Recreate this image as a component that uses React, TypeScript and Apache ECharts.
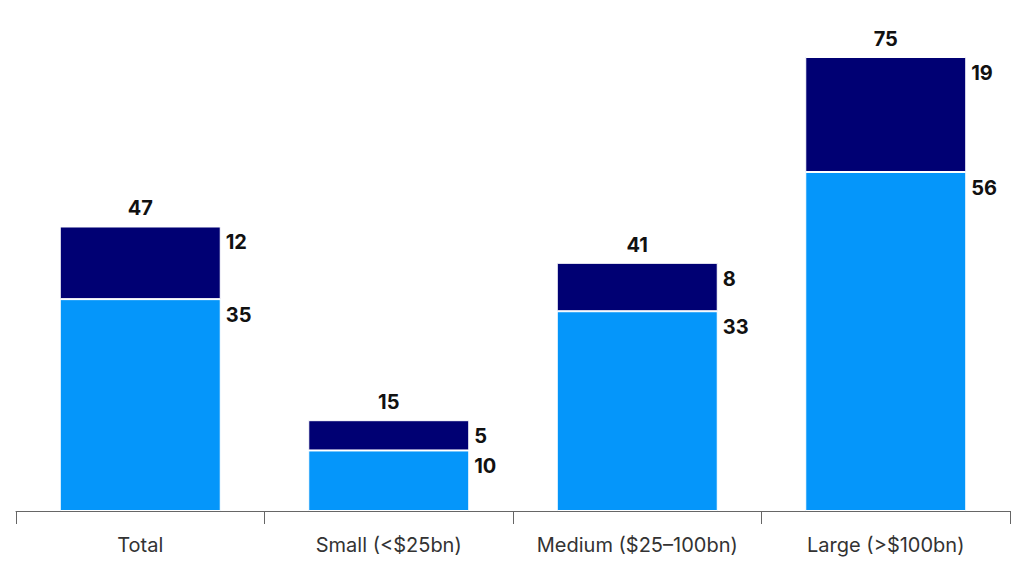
import React, { useEffect, useRef } from "react";
import * as echarts from "echarts";

const categories = ["Total", "Small (<$25bn)", "Medium ($25–100bn)", "Large (>$100bn)"];
const lowerValues = [35, 10, 33, 56];
const upperValues = [12, 5, 8, 19];
const totalValues = [47, 15, 41, 75];

const LIGHT = "#0596fa";
const DARK = "#000073";
const FONT = "Inter, 'Noto Sans', sans-serif";

export default function App() {
  const ref = useRef<HTMLDivElement>(null);
  useEffect(() => {
    if (!ref.current) return;
    const chart = echarts.init(ref.current, undefined, { renderer: "svg" });
    const segLabel = {
      show: true,
      position: [166, 16] as any,
      align: "left",
      verticalAlign: "middle",
      fontFamily: FONT,
      fontSize: 20,
      fontWeight: 700,
      color: "#111",
    };
    chart.setOption({
      animation: false,
      grid: { left: 16, right: 1, top: 57, bottom: 50, containLabel: false },
      xAxis: {
        type: "category",
        data: categories,
        boundaryGap: true,
        axisLine: { show: true, lineStyle: { color: "#666", width: 1 } },
        axisTick: { show: true, length: 13, alignWithLabel: false, lineStyle: { color: "#666" } },
        axisLabel: {
          interval: 0,
          margin: 24,
          fontFamily: FONT,
          fontSize: 20,
          color: "#333",
        },
      },
      yAxis: {
        type: "value",
        min: 0,
        max: 75,
        show: false,
        splitLine: { show: false },
      },
      series: [
        {
          type: "bar",
          stack: "s",
          data: lowerValues,
          barWidth: 161,
          itemStyle: { color: LIGHT, borderColor: "#fff", borderWidth: 1 },
          label: segLabel,
        },
        {
          type: "bar",
          stack: "s",
          data: upperValues,
          barWidth: 161,
          itemStyle: { color: DARK, borderColor: "#fff", borderWidth: 1 },
          label: segLabel,
        },
        {
          type: "scatter",
          data: totalValues,
          symbolSize: 0,
          itemStyle: { color: "#111", opacity: 1 },
          label: {
            show: true,
            position: "top",
            distance: 8,
            fontFamily: FONT,
            fontSize: 20,
            fontWeight: 700,
            color: "#111",
          },
          z: 5,
        },
      ],
    });
    return () => chart.dispose();
  }, []);
  return <div ref={ref} style={{ width: 1011, height: 561, position: "absolute", left: 0, top: 0 }} />;
}
